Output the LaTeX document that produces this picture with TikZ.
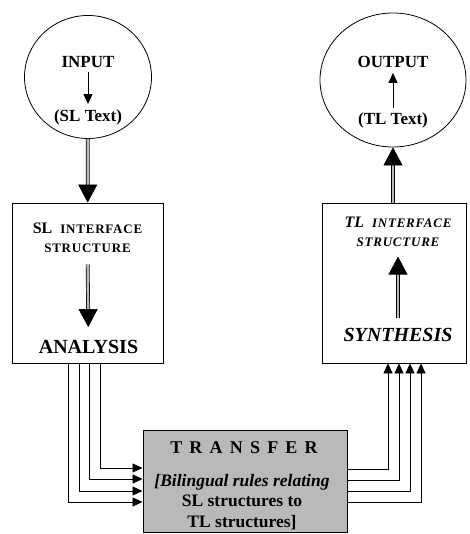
\documentclass[tikz,border=0pt]{standalone}
\usepackage{fontspec}
\setmainfont{Liberation Serif}
\usetikzlibrary{arrows.meta,shapes.geometric}
\newcommand{\fs}[1]{\fontsize{#1}{#1}\selectfont}
\newcommand{\spc}{\addfontfeature{LetterSpace=6}}

\begin{document}
\begin{tikzpicture}[x=1pt,y=-1pt,
  lbl/.style={inner sep=0pt, font=\bfseries\fs{17}},
  frame/.style={draw, line width=0.8pt},
  fat/.style={line width=0.7pt, double=gray!55, double distance=2.4pt,
              -{Triangle[length=18pt,width=19pt]}},
  small/.style={line width=1pt, shorten <=4pt, shorten >=5pt,
                -{Triangle[length=10pt,width=9pt]}},
  link/.style={line width=0.8pt, -{Triangle[length=10pt,width=9pt]}}]
  \useasboundingbox (0,0) rectangle (469,534);
  % end points
  \node[frame, ellipse, minimum width=127pt, minimum height=123pt] (inp) at (88,77) {};
  \node[frame, ellipse, minimum width=146pt, minimum height=134pt] (outp) at (393,80) {};
  \node[lbl] (intop) at (88,62) {INPUT};
  \node[lbl] (inbot) at (88,117) {(SL Text)};
  \draw[small] (intop) -- (inbot);
  \node[lbl] (outtop) at (393,62) {OUTPUT};
  \node[lbl] (outbot) at (393,120) {(TL Text)};
  \draw[small] (outbot) -- (outtop);
  % interface boxes
  \node[frame, minimum width=151pt, minimum height=160pt] (sl) at (87.5,283) {};
  \node[frame, minimum width=144pt, minimum height=160pt] (tl) at (394,283) {};
  \node[lbl] (slhead) at (87.5,228) {\fs{16}SL\hspace{8pt}\fs{13}\spc INTERFACE};
  \node[lbl, font=\bfseries\fs{13}\spc] (slst) at (87.5,248) {STRUCTURE};
  \node[lbl, font=\bfseries\fs{20}] (slan) at (88.5,347) {ANALYSIS};
  \draw[fat, shorten <=12pt, shorten >=13pt] (slst) -- (slan);
  \node[lbl, font=\bfseries\itshape] (tlhead) at (398,222) {\fs{16}TL\hspace{8pt}\fs{13}\spc INTERFACE};
  \node[lbl, font=\bfseries\itshape\fs{13}\spc] (tlst) at (398,242) {STRUCTURE};
  \node[lbl, font=\bfseries\itshape\fs{20}] (tlsy) at (398,335) {SYNTHESIS};
  \draw[fat, shorten <=10pt, shorten >=10pt] (tlsy) -- (tlst);
  \draw[fat] (inp) -- (sl);
  \draw[fat] (tl.north -| outp) -- (outp);
  % transfer
  \node[draw, line width=1pt, fill=gray!55, minimum width=204pt, minimum height=102pt] (tr) at (245,481) {};
  \node[lbl, font=\bfseries\fs{18}\addfontfeature{LetterSpace=40}] (trt) at (244,448) {TRANSFER};
  \node[lbl, font=\bfseries\fs{17.5}, align=center] (trr) at (242,502)
    {{\itshape [Bilingual rules relating}\\[3pt] SL structures to\\[3pt] TL structures]};
  \foreach \xa/\yb in {68/502, 79/491, 89/479, 100/468}
    \draw[link] (\xa,0 |- sl.south) |- (tr.west |- 0,\yb);
  \foreach \xa/\yb in {388/469, 399/480, 410/491, 421/502}
    \draw[link] (tr.east |- 0,\yb) -| (\xa,0 |- tl.south);
\end{tikzpicture}
\end{document}
